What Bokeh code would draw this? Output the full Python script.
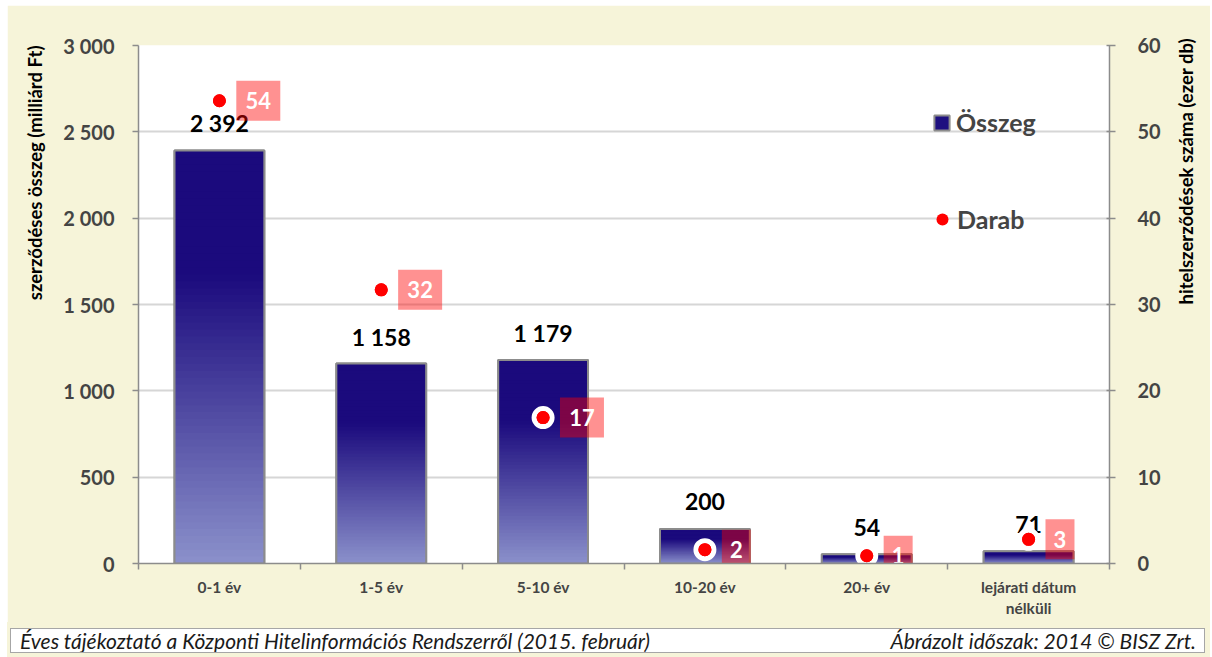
import math
from bokeh.plotting import figure
from bokeh.models import (Range1d, LinearAxis, FixedTicker, ColumnDataSource,
                          Legend, LegendItem, Div, Title)
from bokeh.layouts import column
from bokeh.embed import file_html
from bokeh.resources import INLINE
from bokeh.core.properties import value

# ---------------- data ----------------
categories = ["0-1 év", "1-5 év", "5-10 év", "10-20 év", "20+ év", "lejárati dátum\nnélküli"]
osszeg = [2392, 1158, 1179, 200, 54, 71]
darab = [53.6, 31.7, 16.9, 1.6, 0.9, 2.8]
darab_labels = ["54", "32", "17", "2", "1", "3"]
left_ticks = [0, 500, 1000, 1500, 2000, 2500, 3000]
left_tick_labels = ["0", "500", "1 000", "1 500", "2 000", "2 500", "3 000"]
right_ticks = [0, 10, 20, 30, 40, 50, 60]
left_title = "szerződéses összeg (milliárd Ft)"
right_title = "hitelszerződések száma (ezer db)"
footer_left = "Éves tájékoztató a Központi Hitelinformációs Rendszerről (2015. február)"
footer_right = "Ábrázolt időszak: 2014 © BISZ Zrt."

# ---------------- style ----------------
CREAM = "#F6F4D9"
DARK = (27, 10, 125)
LIGHT = (139, 145, 203)
FONT = "Lato"
ML, MR, MT, MB = 130, 99, 40, 59
FRAME_W, FRAME_H = 974, 518
W = ML + FRAME_W + MR
H = MT + FRAME_H + MB
PXU = FRAME_W / 6.0
Y0, Y1 = 0, 3000
R0, R1 = 0, 60

xs = list(range(1, len(categories) + 1))

p = figure(width=W, height=H, x_range=Range1d(0.5, 6.5), y_range=Range1d(Y0, Y1),
           output_backend="svg", toolbar_location=None,
           min_border_left=ML, min_border_right=MR, min_border_top=MT, min_border_bottom=MB,
           background_fill_color="white", border_fill_color=CREAM)
p.outline_line_color = None
p.extra_y_ranges = {"right": Range1d(R0, R1)}
p.xgrid.grid_line_color = None
p.ygrid.grid_line_color = "#D6D6D6"
p.ygrid.grid_line_width = 2
p.ygrid.ticker = FixedTicker(ticks=left_ticks[1:-1])

# base dark bars (also the legend glyph)
base = p.vbar(x=xs, top=osszeg, width=0.555, fill_color="#1E1080", line_color="#8C8C8C",
              line_width=2)

# gradient built from overlapping segments (each later one covers the upper part)
N = 60
seg = dict(x=[], top=[], bottom=[], color=[])
for i, v in enumerate(osszeg):
    for k in range(N):
        t = (k + 0.5) / N
        f = min(t / 0.70, 1.0)
        c = tuple(int(round(LIGHT[j] + (DARK[j] - LIGHT[j]) * f)) for j in range(3))
        seg["x"].append(xs[i])
        seg["bottom"].append(v * k / N)
        seg["top"].append(v)
        seg["color"].append("#%02x%02x%02x" % c)
p.vbar(x="x", top="top", bottom="bottom", width=0.555, source=ColumnDataSource(seg),
       fill_color="color", line_color=None)
p.vbar(x=xs, top=osszeg, width=0.555, fill_color=None, line_color="#8C8C8C", line_width=2)

# bar value labels
bar_labels = [f"{v:,}".replace(",", " ") for v in osszeg]
p.text(x=xs, y=osszeg, text=bar_labels, text_font=value(FONT), text_font_style="bold",
       text_font_size="23px", text_align="center", text_baseline="alphabetic",
       y_offset=-27, text_color="black")

# darab points: white ring + red dot
p.scatter(x=xs, y=darab, y_range_name="right", size=18, fill_color="#FF0000",
          line_color="white", line_width=5)
pts = p.scatter(x=xs, y=darab, y_range_name="right", size=13, fill_color="#FF0000",
                line_color=None)

# darab label boxes
box_w = [14 + 15 * len(s) for s in darab_labels]
box_x = [xs[i] + (17 + box_w[i] / 2.0) / PXU for i in range(len(xs))]
p.rect(x=box_x, y=darab, width=box_w, height=40, width_units="screen", height_units="screen",
       y_range_name="right", fill_color="#FF0000", fill_alpha=0.43, line_color=None)
p.text(x=box_x, y=darab, text=darab_labels, y_range_name="right", text_font=value(FONT),
       text_font_style="bold", text_font_size="22px", text_align="center",
       text_baseline="middle", text_color="white")


def style_axis(ax):
    ax.major_label_text_font = FONT
    ax.major_label_text_font_style = "bold"
    ax.major_label_text_font_size = "20px"
    ax.minor_tick_line_color = None
    ax.axis_line_color = "#8C8C8C"
    ax.axis_line_width = 1.5
    ax.major_tick_line_color = "#8C8C8C"
    ax.major_tick_line_width = 1.5


ya = p.yaxis[0]
ya.ticker = FixedTicker(ticks=left_ticks)
ya.major_label_overrides = {t: l for t, l in zip(left_ticks, left_tick_labels)}
style_axis(ya)
ya.major_label_standoff = 18
ya.major_tick_out = 6
ya.major_tick_in = 0

ra = LinearAxis(y_range_name="right", ticker=FixedTicker(ticks=right_ticks))
style_axis(ra)
ra.major_label_standoff = 22
ra.major_tick_out = 6
ra.major_tick_in = 3
p.add_layout(ra, "right")

# left title: reads upward, ending at the top of the plot area
p.add_layout(Title(text=left_title, align="right", text_font=FONT, text_font_style="bold",
                   text_font_size="18.5px", text_color="black", standoff=29), "left")

# right title: an axis that only carries a title, reading upward from the middle
rt = LinearAxis(y_range_name="right", ticker=FixedTicker(ticks=[]), axis_label=right_title)
rt.axis_line_color = None
rt.major_tick_line_color = None
rt.minor_tick_line_color = None
rt.major_label_text_font_size = "0px"
rt.axis_label_text_font = FONT
rt.axis_label_text_font_style = "bold"
rt.axis_label_text_font_size = "18.5px"
rt.axis_label_text_color = "black"
rt.axis_label_standoff = 22
if "axis_label_orientation" in rt.properties():
    rt.axis_label_orientation = math.pi / 2
p.add_layout(rt, "right")

xa = p.xaxis[0]
xa.ticker = FixedTicker(ticks=xs, minor_ticks=[x - 0.5 for x in xs] + [xs[-1] + 0.5])
xa.major_label_overrides = {x: c for x, c in zip(xs, categories)}
xa.major_label_text_font = FONT
xa.major_label_text_font_style = "bold"
xa.major_label_text_font_size = "15.5px"
xa.major_label_standoff = 8
xa.major_tick_out = 0
xa.major_tick_in = 0
xa.minor_tick_out = 6
xa.minor_tick_in = 0
xa.minor_tick_line_color = "#8C8C8C"
xa.minor_tick_line_width = 1.5
xa.axis_line_color = "#8C8C8C"
xa.axis_line_width = 1.5

common = dict(label_text_font=FONT, label_text_font_style="bold", label_text_font_size="25px",
              background_fill_alpha=0, border_line_color=None, padding=0, margin=0,
              label_height=27)
leg1 = Legend(items=[LegendItem(label="Összeg", renderers=[base], index=0)],
              location=(794, 426), glyph_width=19, glyph_height=19, label_standoff=5, **common)
leg2 = Legend(items=[LegendItem(label="Darab", renderers=[pts], index=0)],
              location=(789, 329), glyph_width=30, glyph_height=30, label_standoff=0, **common)
p.add_layout(leg1)
p.add_layout(leg2)

footer_html = (
    f'<div style="margin:6px 0 0 3px;width:1195px;height:25px;box-sizing:border-box;'
    f'border:1.5px solid #A6A6A6;background:white;display:flex;justify-content:space-between;'
    f'align-items:center;padding:0 8px 0 9px;font-family:{FONT};font-style:italic;'
    f'font-size:21px;color:#1a1a1a;white-space:nowrap;overflow:hidden;">'
    f'<span>{footer_left}</span><span>{footer_right}</span></div>'
)
footer = Div(text=footer_html, width=W, height=35, margin=0,
             styles={"background-color": CREAM})

layout = column(p, footer, spacing=0, margin=(5, 0, 0, 7))
open("out.html", "w").write(file_html(layout, INLINE))
